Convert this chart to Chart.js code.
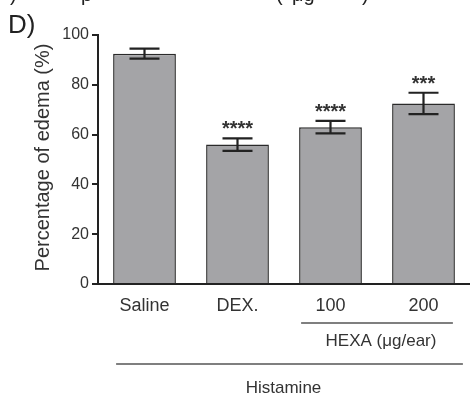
<!DOCTYPE html>
<html><head><meta charset="utf-8">
<script src="https://cdn.jsdelivr.net/npm/chart.js@4/dist/chart.umd.min.js"></script>
<style>html,body{margin:0;padding:0;background:#fff}</style>
</head><body>
<canvas id="c" width="470" height="396"></canvas>
<script>
var groups=['Saline','DEX.','100','200'];
var edema=[92.5,56,63,72.5];
var sem=[2,2.5,2.5,4.3];
var stars=['','****','****','***'];
var yTicks=[0,20,40,60,80,100];
var yTitle='Percentage of edema (%)';
var panel='D)';
var hexaLabel='HEXA (\u03bcg/ear)';
var baseLabel='Histamine';

var FONT='Arial, "Liberation Sans", sans-serif';
var INK='#222';

var extras={
  id:'extras',
  afterDatasetsDraw:function(chart){
    var ctx=chart.ctx, y=chart.scales.y, bars=chart.getDatasetMeta(0).data;
    ctx.save();
    ctx.strokeStyle=INK; ctx.lineWidth=2.2;
    bars.forEach(function(b,i){
      var top=y.getPixelForValue(edema[i]+sem[i]);
      var bot=y.getPixelForValue(edema[i]-sem[i]);
      ctx.beginPath();
      ctx.moveTo(b.x,top); ctx.lineTo(b.x,bot);
      ctx.moveTo(b.x-15,top); ctx.lineTo(b.x+15,top);
      ctx.moveTo(b.x-15,bot); ctx.lineTo(b.x+15,bot);
      ctx.stroke();
      if(stars[i]){
        ctx.fillStyle='#333';
        ctx.font='bold 20px '+FONT;
        ctx.textAlign='center'; ctx.textBaseline='alphabetic';
        ctx.fillText(stars[i],b.x,top-3);
      }
    });
    ctx.restore();
  },
  afterDraw:function(chart){
    var ctx=chart.ctx, bars=chart.getDatasetMeta(0).data, a=chart.chartArea;
    ctx.save();
    ctx.fillStyle='#222';
    ctx.textAlign='left'; ctx.textBaseline='alphabetic';
    // bottom edge of the caption line above, cropped by the frame
    ctx.font='20px '+FONT;
    ctx.fillText(')',10,1); ctx.fillText('p',81,1); ctx.fillText('(',276,1);
    ctx.fillText('\u03bcg',292,1); ctx.fillText(')',362,1);
    ctx.font='26px '+FONT;
    ctx.fillText(panel,8,33);
    // y axis title
    ctx.save();
    ctx.translate(43,(a.top+a.bottom)/2-2);
    ctx.rotate(-Math.PI/2);
    ctx.font='20px '+FONT; ctx.fillStyle='#333';
    ctx.textAlign='center'; ctx.textBaseline='middle';
    ctx.fillText(yTitle,0,0);
    ctx.restore();
    // group lines
    var w=bars[0].width;
    ctx.strokeStyle='#555'; ctx.lineWidth=1.5;
    var hx0=bars[2].x-w/2+2, hx1=bars[3].x+w/2-2;
    ctx.beginPath(); ctx.moveTo(hx0,323); ctx.lineTo(hx1,323); ctx.stroke();
    var sx0=bars[0].x-w/2+3, sx1=bars[3].x+w/2+8;
    ctx.beginPath(); ctx.moveTo(sx0,364); ctx.lineTo(sx1,364); ctx.stroke();
    ctx.fillStyle='#333'; ctx.font='17px '+FONT;
    ctx.textAlign='center'; ctx.textBaseline='middle';
    ctx.fillText(hexaLabel,(hx0+hx1)/2+4,341);
    ctx.fillText(baseLabel,(sx0+sx1)/2-6,388);
    ctx.restore();
  }
};

new Chart(document.getElementById('c').getContext('2d'),{
  type:'bar',
  data:{labels:groups,datasets:[{data:edema,backgroundColor:'#a4a4a7',borderColor:'#2a2a2a',borderWidth:1.5,
    categoryPercentage:1,barPercentage:0.675}]},
  options:{
    responsive:false,animation:false,
    layout:{padding:{top:35,right:0,left:0,bottom:0}},
    plugins:{legend:{display:false},tooltip:{enabled:false}},
    scales:{
      x:{
        grid:{display:false,drawTicks:false},
        border:{display:true,color:INK,width:2},
        ticks:{font:{size:18,family:FONT},color:'#333',padding:11},
        afterFit:function(s){s.height=112;}
      },
      y:{
        min:0,max:100,
        afterBuildTicks:function(s){s.ticks=yTicks.map(function(v){return {value:v};});},
        grid:{display:true,drawOnChartArea:false,drawTicks:true,tickLength:6,color:INK,lineWidth:2},
        border:{display:true,color:INK,width:2},
        ticks:{font:{size:16,family:FONT},color:'#333',padding:3},
        afterFit:function(s){s.width=98;}
      }
    }
  },
  plugins:[extras]
});
</script>
</body></html>
